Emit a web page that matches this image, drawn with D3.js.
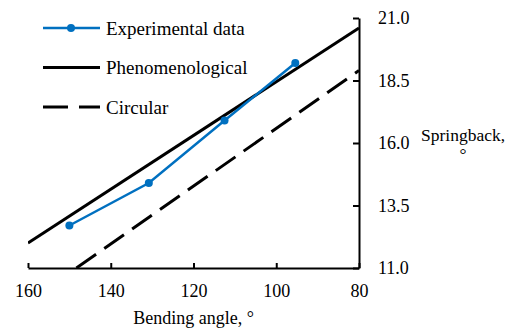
<!DOCTYPE html>
<html>
<head>
<meta charset="utf-8">
<script src="https://cdn.jsdelivr.net/npm/d3@7"></script>
<style>
  html, body { margin: 0; padding: 0; background: #fff; }
  svg { display: block; }
  text { font-family: "Liberation Serif", "Times New Roman", serif; fill: #000; }
</style>
</head>
<body>
<div id="chart"></div>
<script>
// Springback versus bending angle: measurements and two model predictions
const expAngle = [150, 130.8, 112.5, 95.4];
const expSpring = [12.7, 14.4, 16.9, 19.2];

const phenAngle = [160, 80];
const phenSpring = [12.0, 20.6];

const circAngle = [148.3, 80];
const circSpring = [11.0, 18.9];

const xTicks = [160, 140, 120, 100, 80];
const yTicks = [11.0, 13.5, 16.0, 18.5, 21.0];

const seriesNames = ["Experimental data", "Phenomenological", "Circular"];

const W = 512, H = 332;
const plot = { left: 28, right: 359, top: 18, bottom: 268 };
const blue = "#0070C0";

const svg = d3.select("#chart").append("svg")
  .attr("width", W).attr("height", H);

const x = d3.scaleLinear().domain([160, 80]).range([plot.left, plot.right]);
const y = d3.scaleLinear().domain([11, 21]).range([plot.bottom, plot.top]);

svg.append("defs").append("clipPath").attr("id", "plot-clip")
  .append("rect")
  .attr("x", plot.left).attr("y", plot.top)
  .attr("width", plot.right - plot.left)
  .attr("height", plot.bottom - plot.top);

// Axes: ticks point into the plot area
const xAxis = svg.append("g")
  .attr("transform", `translate(0,${plot.bottom})`)
  .call(d3.axisBottom(x).tickValues(xTicks).tickFormat(d3.format("d"))
    .tickSizeInner(-5).tickSizeOuter(0).tickPadding(16));

const yAxis = svg.append("g")
  .attr("transform", `translate(${plot.right},0)`)
  .call(d3.axisRight(y).tickValues(yTicks).tickFormat(d3.format(".1f"))
    .tickSizeInner(-6).tickSizeOuter(0).tickPadding(19));

[xAxis, yAxis].forEach(g => {
  g.select(".domain").attr("stroke", "#000").attr("stroke-width", 2);
  g.selectAll(".tick line").attr("stroke", "#000").attr("stroke-width", 2);
  g.selectAll(".tick text")
    .style("font-family", '"Liberation Serif", "Times New Roman", serif')
    .style("font-size", "18px").attr("fill", "#000");
});

// Axis titles
svg.append("text")
  .attr("x", (plot.left + plot.right) / 2).attr("y", 324)
  .attr("text-anchor", "middle").style("font-size", "18px")
  .text("Bending angle, °");

const yTitle = svg.append("text")
  .attr("x", 463).attr("y", 141)
  .attr("text-anchor", "middle").style("font-size", "17.5px");
yTitle.append("tspan").attr("x", 463).attr("dy", 0).text("Springback,");
yTitle.append("tspan").attr("x", 463).attr("dy", 19).text("°");

// Series lines
const line = d3.line().x(d => x(d[0])).y(d => y(d[1]));
const marks = svg.append("g").attr("clip-path", "url(#plot-clip)");

const phenData = d3.zip(phenAngle, phenSpring);
const circData = d3.zip(circAngle, circSpring);
const expData = d3.zip(expAngle, expSpring);

marks.append("path").datum(circData)
  .attr("d", line).attr("fill", "none")
  .attr("stroke", "#000").attr("stroke-width", 3)
  .attr("stroke-dasharray", "24,10");

marks.append("path").datum(phenData)
  .attr("d", line).attr("fill", "none")
  .attr("stroke", "#000").attr("stroke-width", 3);

svg.append("path").datum(expData)
  .attr("d", line).attr("fill", "none")
  .attr("stroke", blue).attr("stroke-width", 2.5);

svg.append("g").selectAll("circle").data(expData).join("circle")
  .attr("cx", d => x(d[0])).attr("cy", d => y(d[1]))
  .attr("r", 4).attr("fill", blue);

// Legend
const legend = svg.append("g");
const legendRows = [
  { name: seriesNames[0], color: blue, width: 2.5, dash: null, marker: true },
  { name: seriesNames[1], color: "#000", width: 3, dash: null, marker: false },
  { name: seriesNames[2], color: "#000", width: 3, dash: "25,11", marker: false }
];
legendRows.forEach((r, i) => {
  const ly = 28 + i * 39.5;
  legend.append("line")
    .attr("x1", 43).attr("x2", 100).attr("y1", ly).attr("y2", ly)
    .attr("stroke", r.color).attr("stroke-width", r.width)
    .attr("stroke-dasharray", r.dash);
  if (r.marker) {
    legend.append("circle").attr("cx", 71).attr("cy", ly).attr("r", 4).attr("fill", r.color);
  }
  legend.append("text")
    .attr("x", 106).attr("y", ly + 6.5)
    .style("font-size", "19px")
    .text(r.name);
});
</script>
</body>
</html>
